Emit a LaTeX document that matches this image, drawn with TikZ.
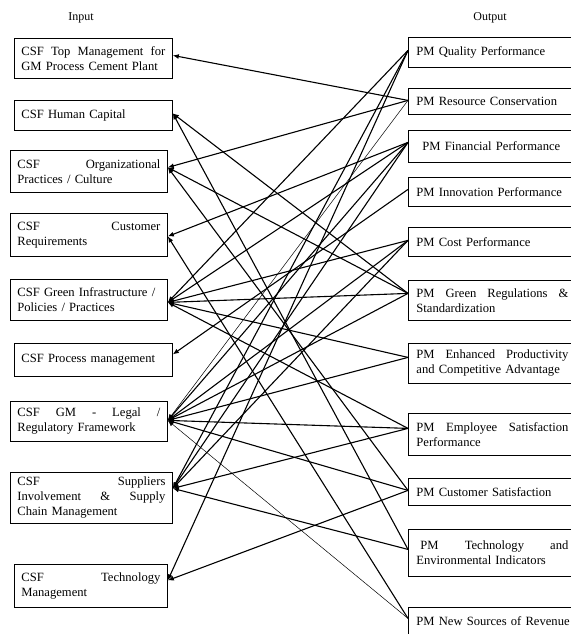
\documentclass[tikz,border=0pt]{standalone}
\usepackage{fontspec}
\setmainfont{Liberation Serif}
\usetikzlibrary{arrows.meta,calc}
\begin{document}
\begin{tikzpicture}[x=1pt,y=-1pt,
  box/.style={draw,line width=0.8pt,anchor=north west,inner ysep=0pt,align=left,font=\fontsize{12.6}{15}\selectfont},
  lbox/.style={box,inner xsep=7pt,minimum width=#1pt,text width=#1pt-14pt},
  rbox/.style={box,inner xsep=8pt,minimum width=168pt,text width=152pt},
  link/.style={line width=1.1pt,-{Latex[length=6pt,width=5pt]}},
  thinlink/.style={line width=0.5pt,-{Latex[length=6pt,width=5pt]}},
  head/.style={font=\fontsize{12}{14}\selectfont}]
\useasboundingbox (0,0) rectangle (570,634);
\fill[white] (0,0) rectangle (570,634);

\node[head] (inp) at (81,18) {Input};
\node[head] (outp) at (490,18) {Output};

% left boxes
\node[lbox=158,minimum height=40pt] (l1) at (14,38) {CSF\hfill Top\hfill Management\hfill for\\GM Process Cement Plant};
\node[lbox=158,minimum height=30pt] (l2) at (14,100) {CSF Human Capital};
\node[lbox=157,minimum height=42pt] (l3) at (10,150) {CSF\hfill Organizational\\Practices / Culture};
\node[lbox=157,minimum height=43pt] (l4) at (10,213) {CSF\hfill Customer\\Requirements};
\node[lbox=157,minimum height=41pt] (l5) at (10,279) {\mbox{CSF Green Infrastructure /}\\Policies / Practices};
\node[lbox=158,minimum height=33pt] (l6) at (14,343) {CSF Process management};
\node[lbox=157,minimum height=40pt] (l7) at (10,401) {CSF\hfill GM\hfill -\hfill Legal\hfill /\\Regulatory Framework};
\node[lbox=162,minimum height=51pt] (l8) at (10,472) {CSF\hfill Suppliers\\Involvement\hfill \&\hfill Supply\\Chain Management};
\node[lbox=153,minimum height=43pt] (l9) at (14,564) {CSF\hfill Technology\\Management};

% right boxes
\node[rbox,minimum height=30pt] (r1) at (408,37) {PM Quality Performance};
\node[rbox,minimum height=26pt] (r2) at (408,88) {PM Resource Conservation};
\node[rbox,minimum height=32pt] (r3) at (408,130) {\hspace*{6pt}PM Financial Performance};
\node[rbox,minimum height=29pt] (r4) at (408,177) {\mbox{PM Innovation Performance}};
\node[rbox,minimum height=29pt] (r5) at (408,227) {PM Cost Performance};
\node[rbox,minimum height=40pt] (r6) at (408,280) {PM\hfill Green\hfill Regulations\hfill \&\\Standardization};
\node[rbox,minimum height=40pt] (r7) at (408,343) {PM\hfill Enhanced\hfill Productivity\\and Competitive Advantage};
\node[rbox,minimum height=42pt] (r8) at (408,413) {PM\hfill Employee\hfill Satisfaction\\Performance};
\node[rbox,minimum height=27pt] (r9) at (408,478) {PM Customer Satisfaction};
\node[rbox,minimum height=47pt] (r10) at (408,529) {\hspace*{4pt}PM\hfill Technology\hfill and\\Environmental Indicators};
\node[rbox,minimum height=28pt] (r11) at (408,607) {\mbox{PM New Sources of Revenue}};

% attachment points
\coordinate (L1) at ($(l1.east)+(0,-3)$);
\coordinate (L2) at ($(l2.east)+(0,-2)$);
\coordinate (L3) at ($(l3.east)+(0,-4)$);
\coordinate (L4) at ($(l4.east)+(0,1.5)$);
\coordinate (L5) at ($(l5.east)+(0,2.5)$);
\coordinate (L6) at ($(l6.east)+(0,-5.5)$);
\coordinate (L7) at ($(l7.east)+(0,-1)$);
\coordinate (L8) at ($(l8.east)+(0,-9.5)$);
\coordinate (L9) at ($(l9.east)+(0,-5.5)$);
\coordinate (R1) at ($(r1.west)+(0,-2)$);
\coordinate (R2) at ($(r2.west)+(0,-1)$);
\coordinate (R3) at ($(r3.west)+(0,-4)$);
\coordinate (R4) at ($(r4.west)+(0,-2.5)$);
\coordinate (R5) at ($(r5.west)+(0,-1.5)$);
\coordinate (R6) at ($(r6.west)+(0,-7)$);
\coordinate (R7) at ($(r7.west)+(0,-6)$);
\coordinate (R8) at ($(r8.west)+(0,-6)$);
\coordinate (R9) at ($(r9.west)+(0,-1.5)$);
\coordinate (R10) at ($(r10.west)+(0,-3.5)$);
\coordinate (R11) at ($(r11.west)+(0,-3)$);

% connectors
\draw[link] (R2) -- (L1);
\draw[link] (R2) -- (L3);
\draw[thinlink] (R2) -- (L7);
\draw[link] (R6) -- (L2);
\draw[link] (R10) -- (L2);
\draw[link] (R6) -- (L3);
\draw[link] (R9) -- (L3);
\draw[link] (R3) -- (L4);
\draw[link] (R11) -- (L4);
\draw[link] (R1) -- (L5);
\draw[link] (R3) -- (L5);
\draw[link] (R5) -- (L5);
\draw[link] (R6) -- (L5);
\draw[link] (R7) -- (L5);
\draw[link] (R8) -- (L5);
\draw[link] (R4) -- (L6);
\draw[link] (R3) -- (L7);
\draw[link] (R5) -- (L7);
\draw[link] (R6) -- (L7);
\draw[link] (R7) -- (L7);
\draw[link] (R8) -- (L7);
\draw[link] (R9) -- (L7);
\draw[thinlink] (R11) -- (L7);
\draw[link] (R1) -- (L8);
\draw[link] (R3) -- (L8);
\draw[link] (R5) -- (L8);
\draw[link] (R8) -- (L8);
\draw[link] (R10) -- (L8);
\draw[link] (R1) -- (L9);
\draw[link] (R9) -- (L9);
\end{tikzpicture}
\end{document}
